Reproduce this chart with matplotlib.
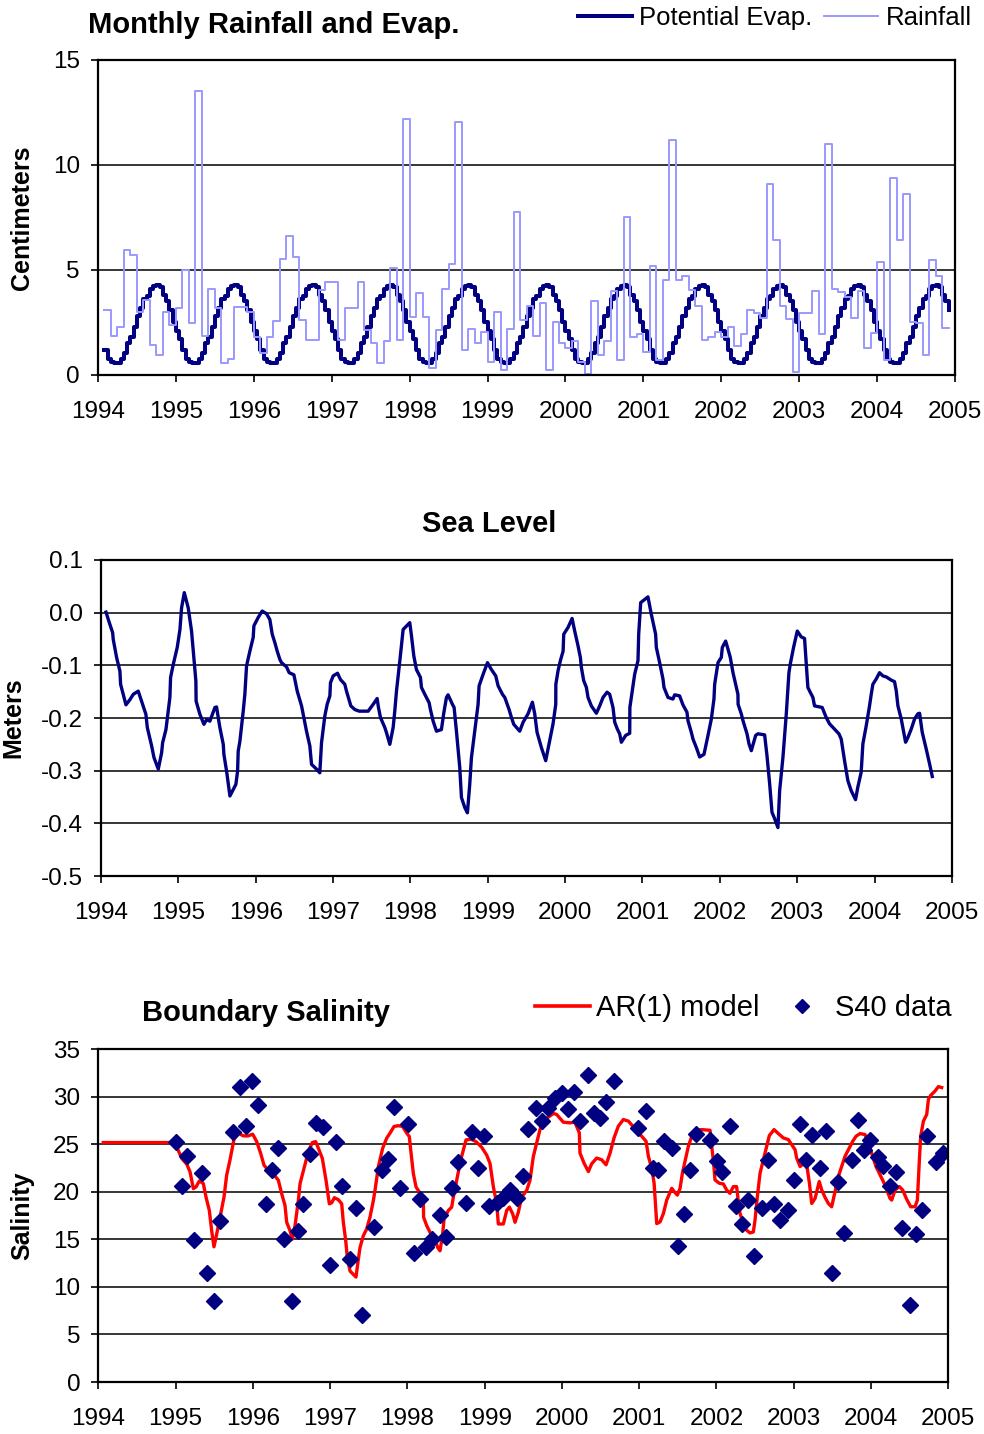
import numpy as np
import matplotlib
matplotlib.use('Agg')
import matplotlib.pyplot as plt
from matplotlib.lines import Line2D

plt.rcParams['font.family'] = ['Liberation Sans', 'DejaVu Sans']
plt.rcParams['axes.unicode_minus'] = False

years = list(range(1994, 2006))

# ---- monthly rainfall (cm), Feb 1994 .. Nov 2004, last value repeated as end point
rain_cm = [3.1, 1.85, 2.3, 5.95, 5.7, 3.0, 3.55, 1.43, 0.95, 3.0, 2.4,
           3.17, 5.0, 2.46, 13.5, 1.85, 4.1, 3.2, 0.56, 0.75, 3.25, 3.25, 3.0,
           1.8, 1.03, 1.8, 2.55, 5.5, 6.6, 5.6, 2.6, 1.67, 1.67, 4.05, 4.44,
           4.44, 1.67, 3.17, 3.17, 4.44, 2.14, 1.5, 0.56, 1.6, 5.1, 1.67, 12.2,
           2.78, 3.89, 2.78, 0.32, 2.14, 4.1, 5.3, 12.05, 1.2, 2.2, 1.5, 2.06,
           0.63, 3.0, 0.24, 2.2, 7.78, 2.62, 3.3, 1.86, 3.45, 0.24, 2.54, 1.5,
           1.27, 1.6, 0.6, 0.05, 3.5, 0.95, 1.6, 4.0, 0.71, 7.5, 1.81, 1.95,
           1.1, 5.19, 0.71, 4.5, 11.2, 4.5, 4.7, 4.05, 3.3, 1.67, 1.83, 2.07,
           1.83, 2.3, 1.4, 1.95, 3.1, 2.94, 2.7, 9.1, 6.43, 3.3, 2.65, 0.16,
           2.94, 2.94, 4.0, 1.95, 11.0, 4.1, 3.97, 3.73, 2.7, 4.0, 1.3, 2.0,
           5.4, 0.71, 9.4, 6.43, 8.6, 2.5, 2.46, 0.95, 5.48, 4.7, 2.25, 2.25]
rain_month = np.arange(1, len(rain_cm) + 1)          # months after Jan 1994

# ---- potential evaporation (cm), one year in half-month steps; same every year
evap_cycle = [2.1, 1.7, 1.2, 0.75, 0.6, 0.55, 0.55, 0.75, 1.05, 1.5, 1.8, 2.3,
              2.8, 3.2, 3.6, 3.75, 4.1, 4.25, 4.3, 4.2, 3.8, 3.5, 3.1, 2.5]
evap_first, evap_last = 2, 262                       # half-month index range shown

# ---- sea level (m), years after 1994.0
sea_t = [0.065, 0.108, 0.151, 0.159, 0.202, 0.245, 0.254, 0.323, 0.375, 0.418,
         0.482, 0.525, 0.581, 0.599, 0.655, 0.685, 0.741, 0.784, 0.797, 0.840,
         0.891, 0.900, 0.935, 0.986, 1.021, 1.042, 1.077, 1.128, 1.171, 1.193,
         1.227, 1.230, 1.279, 1.331, 1.365, 1.408, 1.473, 1.494, 1.537, 1.581,
         1.589, 1.624, 1.667, 1.688, 1.744, 1.766, 1.774, 1.796, 1.839, 1.860,
         1.882, 1.925, 1.968, 1.977, 2.033, 2.084, 2.140, 2.183, 2.214, 2.248,
         2.278, 2.313, 2.334, 2.399, 2.433, 2.494, 2.519, 2.537, 2.593, 2.614,
         2.657, 2.700, 2.722, 2.786, 2.829, 2.851, 2.894, 2.924, 2.959, 2.967,
         3.002, 3.058, 3.096, 3.152, 3.174, 3.230, 3.282, 3.338, 3.454, 3.519,
         3.570, 3.587, 3.613, 3.669, 3.691, 3.734, 3.777, 3.798, 3.820, 3.863,
         3.906, 3.992, 4.014, 4.044, 4.078, 4.130, 4.143, 4.186, 4.242, 4.259,
         4.294, 4.337, 4.401, 4.432, 4.466, 4.487, 4.543, 4.565, 4.595, 4.638,
         4.660, 4.703, 4.737, 4.767, 4.789, 4.832, 4.875, 4.888, 4.940, 4.996,
         5.047, 5.103, 5.134, 5.190, 5.220, 5.276, 5.306, 5.336, 5.413, 5.457,
         5.521, 5.577, 5.607, 5.637, 5.693, 5.749, 5.801, 5.844, 5.879, 5.880,
         5.909, 5.939, 5.974, 5.982, 6.038, 6.090, 6.124, 6.167, 6.197, 6.210,
         6.240, 6.275, 6.296, 6.339, 6.404, 6.447, 6.490, 6.542, 6.576, 6.619,
         6.641, 6.675, 6.705, 6.727, 6.783, 6.835, 6.837, 6.899, 6.942, 6.951,
         6.977, 7.028, 7.071, 7.114, 7.170, 7.179, 7.222, 7.265, 7.278, 7.330,
         7.394, 7.416, 7.480, 7.523, 7.575, 7.588, 7.631, 7.653, 7.696, 7.739,
         7.795, 7.847, 7.890, 7.924, 7.933, 7.976, 8.019, 8.032, 8.075, 8.105,
         8.135, 8.170, 8.204, 8.234, 8.236, 8.277, 8.299, 8.351, 8.377, 8.407,
         8.463, 8.493, 8.579, 8.609, 8.644, 8.674, 8.708, 8.751, 8.773, 8.816,
         8.859, 8.893, 8.910, 8.953, 9.001, 9.052, 9.095, 9.117, 9.138, 9.168,
         9.203, 9.224, 9.289, 9.323, 9.375, 9.418, 9.482, 9.539, 9.569, 9.612,
         9.655, 9.698, 9.754, 9.784, 9.827, 9.849, 9.892, 9.935, 9.957, 9.978,
         10.021, 10.064, 10.107, 10.151, 10.215, 10.258, 10.280, 10.302, 10.345,
         10.401, 10.431, 10.474, 10.517, 10.560, 10.582, 10.616, 10.668, 10.711,
         10.746]
sea_m = [0.001, -0.019, -0.038, -0.051, -0.085, -0.111, -0.136, -0.175, -0.165,
         -0.155, -0.149, -0.168, -0.193, -0.218, -0.253, -0.275, -0.297, -0.266,
         -0.247, -0.222, -0.161, -0.123, -0.098, -0.066, -0.032, 0.009, 0.038,
         0.009, -0.035, -0.073, -0.130, -0.168, -0.193, -0.212, -0.203, -0.206,
         -0.180, -0.179, -0.218, -0.250, -0.269, -0.301, -0.348, -0.342, -0.326,
         -0.301, -0.263, -0.244, -0.187, -0.155, -0.101, -0.073, -0.047, -0.025,
         -0.009, 0.003, -0.002, -0.013, -0.041, -0.057, -0.073, -0.089, -0.095,
         -0.103, -0.114, -0.118, -0.136, -0.149, -0.177, -0.193, -0.225, -0.253,
         -0.288, -0.297, -0.304, -0.247, -0.196, -0.174, -0.158, -0.133, -0.120,
         -0.115, -0.127, -0.136, -0.149, -0.177, -0.184, -0.187, -0.187, -0.174,
         -0.163, -0.180, -0.199, -0.218, -0.228, -0.250, -0.218, -0.187, -0.149,
         -0.092, -0.032, -0.019, -0.044, -0.082, -0.108, -0.123, -0.142, -0.155,
         -0.171, -0.184, -0.206, -0.225, -0.222, -0.190, -0.161, -0.156, -0.174,
         -0.180, -0.225, -0.294, -0.351, -0.370, -0.380, -0.326, -0.275, -0.225,
         -0.174, -0.139, -0.117, -0.095, -0.108, -0.120, -0.139, -0.155, -0.161,
         -0.184, -0.199, -0.212, -0.225, -0.208, -0.192, -0.170, -0.192, -0.227,
         -0.256, -0.281, -0.243, -0.211, -0.174, -0.136, -0.110, -0.091, -0.073,
         -0.041, -0.028, -0.011, -0.035, -0.063, -0.085, -0.104, -0.129, -0.142,
         -0.161, -0.177, -0.191, -0.177, -0.161, -0.151, -0.155, -0.180, -0.208,
         -0.221, -0.230, -0.246, -0.233, -0.229, -0.180, -0.117, -0.091, -0.041,
         0.019, 0.025, 0.030, -0.003, -0.041, -0.066, -0.095, -0.126, -0.142,
         -0.161, -0.164, -0.156, -0.158, -0.175, -0.189, -0.205, -0.227, -0.240,
         -0.256, -0.274, -0.269, -0.233, -0.202, -0.164, -0.136, -0.095, -0.085,
         -0.066, -0.054, -0.069, -0.085, -0.114, -0.136, -0.155, -0.174, -0.192,
         -0.205, -0.230, -0.249, -0.262, -0.233, -0.230, -0.232, -0.271, -0.325,
         -0.379, -0.391, -0.408, -0.338, -0.274, -0.192, -0.114, -0.098, -0.066,
         -0.035, -0.046, -0.049, -0.098, -0.142, -0.151, -0.161, -0.177, -0.179,
         -0.180, -0.199, -0.211, -0.221, -0.230, -0.240, -0.281, -0.319, -0.338,
         -0.355, -0.331, -0.303, -0.249, -0.215, -0.177, -0.155, -0.136, -0.126,
         -0.114, -0.120, -0.122, -0.128, -0.131, -0.148, -0.177, -0.202, -0.246,
         -0.237, -0.221, -0.202, -0.192, -0.191, -0.227, -0.259, -0.287, -0.311]

# ---- S40 salinity samples, years after 1994.0
s40_t = [1.006, 1.079, 1.152, 1.239, 1.346, 1.411, 1.497, 1.575, 1.748, 1.834,
         1.907, 1.993, 2.071, 2.166, 2.244, 2.330, 2.408, 2.502, 2.580, 2.654,
         2.740, 2.817, 2.912, 2.999, 3.076, 3.158, 3.258, 3.331, 3.417, 3.568,
         3.667, 3.745, 3.827, 3.905, 4.012, 4.086, 4.164, 4.241, 4.314, 4.422,
         4.500, 4.582, 4.651, 4.759, 4.841, 4.918, 4.996, 5.061, 5.156, 5.233,
         5.328, 5.415, 5.492, 5.566, 5.665, 5.738, 5.825, 5.911, 5.997, 6.084,
         6.157, 6.235, 6.343, 6.415, 6.493, 6.571, 6.679, 6.990, 7.089, 7.175,
         7.248, 7.326, 7.421, 7.498, 7.580, 7.658, 7.736, 7.917, 8.003, 8.068,
         8.176, 8.254, 8.327, 8.413, 8.491, 8.586, 8.672, 8.750, 8.823, 8.931,
         9.004, 9.082, 9.160, 9.242, 9.341, 9.419, 9.491, 9.569, 9.651, 9.750,
         9.836, 9.914, 9.988, 10.087, 10.160, 10.246, 10.324, 10.406, 10.505,
         10.583, 10.665, 10.730, 10.842, 10.928]
s40_sal = [25.27, 20.61, 23.75, 14.92, 21.92, 11.49, 8.48, 16.97, 26.33, 31.0,
           26.94, 31.64, 29.09, 18.66, 22.27, 24.64, 15.02, 8.48, 15.91, 18.66,
           23.97, 27.22, 26.79, 12.30, 25.20, 20.57, 12.90, 18.28, 7.0, 16.33,
           22.27, 23.40, 28.88, 20.40, 27.15, 13.61, 19.26, 14.14, 15.02, 17.60,
           15.27, 20.40, 23.15, 18.84, 26.33, 22.52, 25.87, 18.45, 18.84, 19.37,
           20.22, 19.37, 21.67, 26.58, 28.83, 27.42, 28.83, 29.89, 30.42, 28.65,
           30.52, 27.42, 32.25, 28.23, 27.77, 29.46, 31.65, 26.71, 28.48, 22.48,
           22.30, 25.30, 24.59, 14.29, 17.64, 22.30, 26.11, 25.48, 23.18, 22.05,
           26.96, 18.52, 16.58, 19.12, 13.20, 18.24, 23.36, 18.70, 17.01, 18.07,
           21.24, 27.17, 23.36, 26.01, 22.48, 26.36, 11.47, 21.0, 15.70, 23.36,
           27.59, 24.42, 25.48, 23.64, 22.72, 20.64, 22.12, 16.20, 8.08, 15.53,
           18.07, 25.83, 23.11, 24.06]

# ---- AR(1) model salinity, years after 1994.0
ar_t = [0.065, 0.971, 1.023, 1.079, 1.144, 1.187, 1.230, 1.264, 1.308, 1.359,
        1.394, 1.437, 1.467, 1.497, 1.532, 1.575, 1.627, 1.661, 1.704, 1.756,
        1.812, 1.877, 1.941, 1.998, 2.050, 2.101, 2.144, 2.179, 2.244, 2.330,
        2.373, 2.416, 2.438, 2.481, 2.511, 2.546, 2.589, 2.611, 2.662, 2.718,
        2.770, 2.813, 2.848, 2.899, 2.947, 2.990, 3.020, 3.055, 3.107, 3.150,
        3.171, 3.202, 3.223, 3.258, 3.301, 3.335, 3.365, 3.387, 3.430, 3.473,
        3.516, 3.560, 3.581, 3.624, 3.680, 3.732, 3.775, 3.827, 3.883, 3.939,
        3.991, 4.025, 4.043, 4.077, 4.112, 4.155, 4.185, 4.207, 4.210, 4.250,
        4.293, 4.358, 4.392, 4.422, 4.457, 4.474, 4.530, 4.573, 4.595, 4.638,
        4.659, 4.690, 4.724, 4.759, 4.824, 4.888, 4.962, 5.026, 5.069, 5.113,
        5.156, 5.177, 5.242, 5.285, 5.320, 5.363, 5.393, 5.436, 5.479, 5.544,
        5.587, 5.630, 5.673, 5.716, 5.751, 5.824, 5.889, 5.932, 6.018, 6.105,
        6.169, 6.225, 6.234, 6.286, 6.342, 6.385, 6.450, 6.515, 6.571, 6.623,
        6.674, 6.730, 6.795, 6.860, 6.925, 6.990, 7.033, 7.089, 7.119, 7.162,
        7.193, 7.227, 7.270, 7.313, 7.356, 7.421, 7.464, 7.494, 7.529, 7.559,
        7.593, 7.636, 7.680, 7.736, 7.809, 7.917, 7.938, 7.960, 7.981, 8.037,
        8.089, 8.132, 8.175, 8.218, 8.261, 8.283, 8.305, 8.348, 8.391, 8.434,
        8.477, 8.499, 8.529, 8.564, 8.607, 8.650, 8.684, 8.745, 8.801, 8.866,
        8.930, 8.974, 9.017, 9.038, 9.082, 9.125, 9.168, 9.203, 9.233, 9.276,
        9.330, 9.362, 9.405, 9.448, 9.491, 9.534, 9.577, 9.620, 9.663, 9.707,
        9.763, 9.806, 9.858, 9.923, 9.987, 10.022, 10.065, 10.117, 10.181,
        10.246, 10.268, 10.311, 10.367, 10.410, 10.462, 10.514, 10.570, 10.600,
        10.626, 10.643, 10.678, 10.721, 10.743, 10.773, 10.829, 10.872, 10.915]
ar_sal = [25.17, 25.17, 24.57, 23.51, 22.91, 22.09, 20.33, 20.50, 21.14, 20.86,
          19.44, 18.03, 15.91, 14.21, 15.55, 17.32, 19.44, 21.74, 23.33, 25.52,
          26.16, 25.87, 25.87, 26.05, 25.27, 24.04, 22.80, 22.45, 22.09, 21.21,
          19.80, 18.56, 16.79, 15.91, 15.02, 16.44, 19.09, 20.86, 22.45, 24.21,
          25.17, 25.27, 24.57, 23.51, 21.21, 18.73, 18.84, 19.37, 19.16, 18.73,
          16.79, 14.85, 13.08, 11.66, 11.31, 11.03, 12.90, 14.14, 15.38, 16.08,
          17.32, 19.09, 20.15, 22.62, 24.57, 25.63, 26.16, 26.86, 26.94, 26.86,
          26.16, 25.80, 24.39, 21.92, 20.50, 19.97, 19.44, 18.73, 17.32, 16.44,
          15.73, 14.92, 14.14, 13.79, 15.55, 17.14, 18.03, 18.38, 19.44, 21.21,
          22.09, 23.33, 24.39, 25.45, 25.52, 25.27, 24.67, 23.86, 22.98, 20.50,
          18.73, 16.61, 16.61, 18.03, 18.38, 17.67, 16.79, 17.85, 19.44, 20.15,
          21.21, 23.71, 25.12, 26.53, 27.42, 27.84, 28.23, 28.12, 27.31, 27.24,
          27.31, 26.18, 24.06, 23.01, 22.12, 22.94, 23.54, 23.36, 22.83, 24.06,
          25.65, 26.89, 27.59, 27.42, 26.82, 26.18, 25.83, 25.30, 23.71, 22.48,
          20.89, 16.65, 16.83, 17.71, 19.12, 20.36, 19.90, 19.65, 20.36, 21.95,
          23.18, 24.77, 25.83, 26.46, 26.53, 26.46, 24.77, 23.36, 21.24, 20.89,
          20.82, 20.18, 19.83, 20.54, 20.54, 18.95, 17.71, 16.65, 15.95, 15.67,
          15.77, 17.01, 19.48, 21.95, 23.36, 24.77, 25.90, 26.53, 26.11, 25.65,
          25.48, 24.95, 24.42, 23.54, 22.65, 22.94, 22.83, 20.89, 18.77, 19.30,
          21.07, 20.18, 19.41, 18.77, 18.42, 20.01, 21.59, 22.65, 23.71, 24.42,
          25.30, 25.83, 26.11, 26.01, 24.59, 23.71, 22.65, 21.77, 20.71,
          19.30, 19.12, 20.18, 20.54, 20.18, 19.20, 18.42, 18.42, 19.12,
          23.36, 25.83, 27.42, 28.12, 29.71, 30.13, 30.59, 31.05, 30.95]

NAVY = '#000080'
RAIN = '#9999FF'
RED = '#FF0000'

fig = plt.figure(figsize=(9.84, 14.34), dpi=100)


def style_axes(ax, ylim, yticks, ylabels):
    ax.set_xlim(1994, 2005)
    ax.set_ylim(*ylim)
    ax.set_xticks(years)
    ax.set_xticklabels([str(y) for y in years])
    ax.set_yticks(yticks)
    ax.set_yticklabels(ylabels)
    ax.yaxis.grid(True, color='black', linewidth=1.1)
    ax.set_axisbelow(True)
    for s in ax.spines.values():
        s.set_linewidth(1.6)
    ax.tick_params(direction='out', length=5, width=1.2, labelsize=17.5)
    ax.tick_params(axis='x', pad=14)
    ax.tick_params(axis='y', pad=8)


# ================= rainfall / evaporation =================
ax1 = fig.add_axes([0.0996, 0.7385, 0.871, 0.2197])
evap_all = np.tile(evap_cycle, 11)
idx = np.arange(evap_first, evap_last + 1)
ax1.plot(1994 + idx / 24.0, evap_all[idx], drawstyle='steps-post',
         color=NAVY, lw=2.9)
ax1.plot(1994 + rain_month / 12.0, rain_cm, drawstyle='steps-post',
         color=RAIN, lw=1.4)
style_axes(ax1, (0, 15), [0, 5, 10, 15], ['0', '5', '10', '15'])
fig.text(88 / 984, 1 - 33 / 1434, 'Monthly Rainfall and Evap.',
         fontsize=21, fontweight='bold', ha='left', va='baseline')
fig.text(22 / 984, 0.5 * (0.7385 * 2 + 0.2197), 'Centimeters', rotation=90,
         fontsize=18, fontweight='bold', ha='center', va='center')
h1 = [Line2D([], [], color=NAVY, lw=2.9), Line2D([], [], color=RAIN, lw=1.4)]
ax1.legend(h1, ['Potential Evap.', 'Rainfall'], loc='center right',
           bbox_to_anchor=(972 / 984, 1 - 18 / 1434),
           bbox_transform=fig.transFigure, ncol=2, frameon=False,
           fontsize=18.5, handlelength=2.1, handletextpad=0.3,
           columnspacing=0.45, borderpad=0, borderaxespad=0)

# ================= sea level =================
ax2 = fig.add_axes([0.1026, 0.3891, 0.8648, 0.2204])
ax2.plot(1994 + np.array(sea_t), sea_m, color=NAVY, lw=2.4)
sl_ticks = [0.1, 0.0, -0.1, -0.2, -0.3, -0.4, -0.5]
style_axes(ax2, (-0.5, 0.1), sl_ticks, ['%.1f' % v for v in sl_ticks])
fig.text(489 / 984, 1 - 532 / 1434, 'Sea Level', fontsize=21,
         fontweight='bold', ha='center', va='baseline')
fig.text(13 / 984, 0.3891 + 0.2204 / 2, 'Meters', rotation=90,
         fontsize=18, fontweight='bold', ha='center', va='center')

# ================= boundary salinity =================
ax3 = fig.add_axes([0.0999, 0.03626, 0.8638, 0.2322])
ax3.plot(1994 + np.array(ar_t), ar_sal, color=RED, lw=2.4)
ax3.plot(1994 + np.array(s40_t), s40_sal, linestyle='none', marker='D',
         markersize=8.5, color=NAVY)
style_axes(ax3, (0, 35), list(range(0, 36, 5)), [str(v) for v in range(0, 36, 5)])
fig.text(142 / 984, 1 - 1021 / 1434, 'Boundary Salinity', fontsize=21,
         fontweight='bold', ha='left', va='baseline')
fig.text(22 / 984, 0.03626 + 0.2322 / 2, 'Salinity', rotation=90,
         fontsize=18, fontweight='bold', ha='center', va='center')
h3 = [Line2D([], [], color=RED, lw=2.6),
      Line2D([], [], linestyle='none', marker='D', markersize=7, color=NAVY)]
ax3.legend(h3, ['AR(1) model', 'S40 data'], loc='center right',
           bbox_to_anchor=(952 / 984, 1 - 1008 / 1434),
           bbox_transform=fig.transFigure, ncol=2, frameon=False,
           fontsize=21, handlelength=1.9, handletextpad=0.2,
           columnspacing=0.5, borderpad=0, borderaxespad=0)

fig.savefig('out.png', dpi=100)
